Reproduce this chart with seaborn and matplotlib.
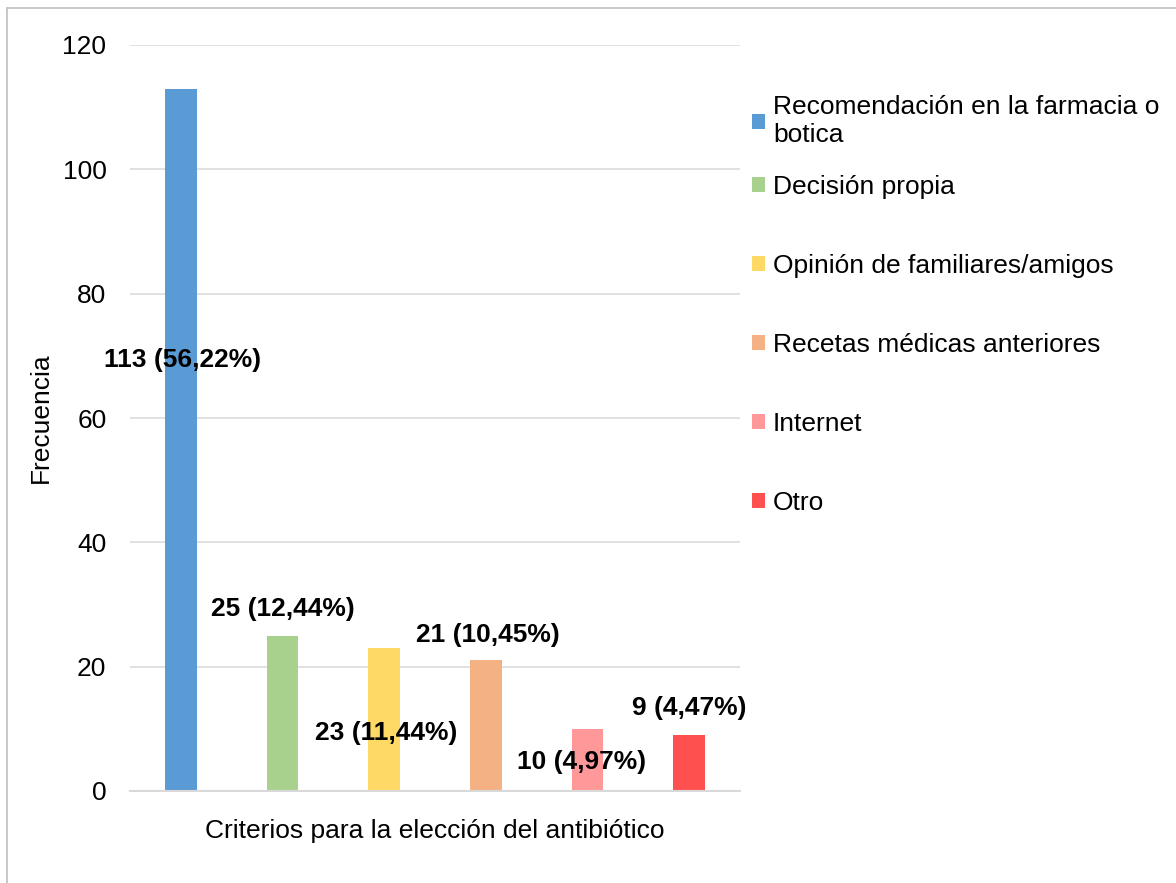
import matplotlib
matplotlib.use("Agg")
import matplotlib.pyplot as plt
import seaborn as sns
import pandas as pd
from matplotlib.patches import Patch
from matplotlib.lines import Line2D

categories = ["Recomendación en la farmacia o botica", "Decisión propia",
              "Opinión de familiares/amigos", "Recetas médicas anteriores",
              "Internet", "Otro"]
legend_labels = ["Recomendación en la farmacia o\nbotica", "Decisión propia",
                 "Opinión de familiares/amigos", "Recetas médicas anteriores",
                 "Internet", "Otro"]
values = [113, 25, 23, 21, 10, 9]
percent_labels = ["113 (56,22%)", "25 (12,44%)", "23 (11,44%)",
                  "21 (10,45%)", "10 (4,97%)", "9 (4,47%)"]
colors = ["#5B9BD5", "#A9D18E", "#FFD966", "#F4B183", "#FF9999", "#FF5050"]
label_y = [69.3, 29.3, 9.3, 25.1, 4.7, 13.4]
label_dx = [0.02, 0.0, 0.02, 0.02, -0.06, 0.0]

sns.set_theme(style="white")
plt.rcParams["font.family"] = ["Liberation Sans", "DejaVu Sans"]
FS = 19

df = pd.DataFrame({"cat": categories, "val": values})

fig = plt.figure(figsize=(11.76, 8.83), dpi=100)
ax = fig.add_axes([130/1176, 1 - 791/883, 610/1176, (791 - 45)/883])

sns.barplot(data=df, x="cat", y="val", hue="cat", palette=colors,
            order=categories, hue_order=categories, width=0.31,
            dodge=False, legend=False, ax=ax, saturation=1, linewidth=0)

ax.set_ylim(0, 120)
ax.set_xlim(-0.5, 5.5)
ax.set_yticks(range(0, 121, 20))
ax.yaxis.grid(True, color="#d9d9d9", linewidth=1.1)
ax.set_axisbelow(True)
for s in ["top", "right", "left"]:
    ax.spines[s].set_visible(False)
ax.spines["bottom"].set_color("#d9d9d9")
ax.spines["bottom"].set_linewidth(1.5)
ax.set_xticks([])
ax.tick_params(axis="y", length=0, pad=17, labelsize=FS, labelcolor="black")
ax.set_xlabel("Criterios para la elección del antibiótico", fontsize=FS,
              labelpad=20, color="black")
ax.set_ylabel("Frecuencia", fontsize=FS, labelpad=7, color="black")

for i, (t, y) in enumerate(zip(percent_labels, label_y)):
    ax.text(i + label_dx[i], y, t, ha="center", va="center", fontsize=FS,
            fontweight="bold", color="black")

handles = [Patch(facecolor=c, edgecolor="none") for c in colors]
leg1 = ax.legend(handles[:1], legend_labels[:1], loc="upper left",
                 bbox_to_anchor=(752/1176, 1 - 95/883), bbox_transform=fig.transFigure,
                 frameon=False, fontsize=FS, handlelength=0.5, handleheight=0.5,
                 handletextpad=0.3, borderpad=0, borderaxespad=0, labelcolor="black")
ax.add_artist(leg1)
ax.legend(handles[1:], legend_labels[1:], loc="upper left",
          bbox_to_anchor=(752/1176, 1 - 175/883), bbox_transform=fig.transFigure,
          frameon=False, fontsize=FS, handlelength=0.5, handleheight=0.5,
          handletextpad=0.3, borderpad=0, borderaxespad=0, labelspacing=2.08,
          labelcolor="black")

# outer chart frame
fig.add_artist(Line2D([7/1176, 7/1176], [0, 1 - 8/883], transform=fig.transFigure,
                      color="#bfbfbf", linewidth=1.2))
fig.add_artist(Line2D([7/1176, 1], [1 - 8/883, 1 - 8/883], transform=fig.transFigure,
                      color="#bfbfbf", linewidth=1.2))

fig.savefig("out.png", dpi=100)
